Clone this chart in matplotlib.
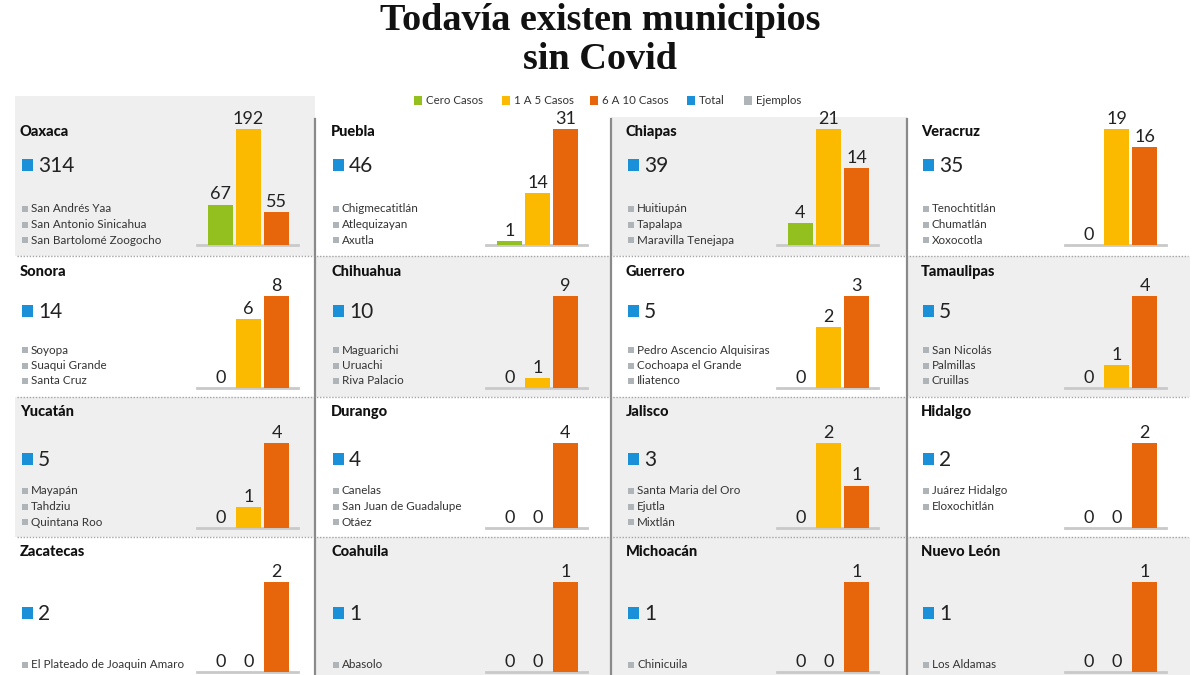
import matplotlib
matplotlib.use("Agg")
import matplotlib.pyplot as plt
from matplotlib.patches import Rectangle
from matplotlib.lines import Line2D

# ---------------- data ----------------
states = ["Oaxaca", "Puebla", "Chiapas", "Veracruz",
          "Sonora", "Chihuahua", "Guerrero", "Tamaulipas",
          "Yucatán", "Durango", "Jalisco", "Hidalgo",
          "Zacatecas", "Coahuila", "Michoacán", "Nuevo León"]
totals = [314, 46, 39, 35, 14, 10, 5, 5, 5, 4, 3, 2, 2, 1, 1, 1]
cero_casos = [67, 1, 4, 0, 0, 0, 0, 0, 0, 0, 0, 0, 0, 0, 0, 0]
uno_a_cinco = [192, 14, 21, 19, 6, 1, 2, 1, 1, 0, 2, 0, 0, 0, 0, 0]
seis_a_diez = [55, 31, 14, 16, 8, 9, 3, 4, 4, 4, 1, 2, 2, 1, 1, 1]
ejemplos = [
    ["San Andrés Yaa", "San Antonio Sinicahua", "San Bartolomé Zoogocho"],
    ["Chigmecatitlán", "Atlequizayan", "Axutla"],
    ["Huitiupán", "Tapalapa", "Maravilla Tenejapa"],
    ["Tenochtitlán", "Chumatlán", "Xoxocotla"],
    ["Soyopa", "Suaqui Grande", "Santa Cruz"],
    ["Maguarichi", "Uruachi", "Riva Palacio"],
    ["Pedro Ascencio Alquisiras", "Cochoapa el Grande", "Iliatenco"],
    ["San Nicolás", "Palmillas", "Cruillas"],
    ["Mayapán", "Tahdziu", "Quintana Roo"],
    ["Canelas", "San Juan de Guadalupe", "Otáez"],
    ["Santa Maria del Oro", "Ejutla", "Mixtlán"],
    ["Juárez Hidalgo", "Eloxochitlán"],
    ["El Plateado de Joaquin Amaro"],
    ["Abasolo"],
    ["Chinicuila"],
    ["Los Aldamas"],
]
legend_labels = ["Cero Casos", "1 A 5 Casos", "6 A 10 Casos", "Total", "Ejemplos"]
title_text = "Todavía existen municipios\nsin Covid"

# ---------------- style ----------------
GREEN, YELLOW, ORANGE = "#93c01f", "#fbb900", "#e8660b"
BLUE, GREYSQ = "#1a90d9", "#aeb4b8"
PANEL_BG = "#efefef"
SANS = ["Lato", "DejaVu Sans"]

W, H = 1200, 675
fig = plt.figure(figsize=(12, 6.75), dpi=100)
fig.patch.set_facecolor("white")

def fx(x):
    return x / W

def fy(y):
    return 1 - y / H

# geometry (pixels)
col_lines = [315, 611, 907]
col_left = [15, 315, 611, 907]
col_right = [315, 611, 907, 1190]
text_x = [20, 331, 626, 921]
bar_x0 = [208, 497, 788, 1076]
row_top = [117, 256, 397, 537]
row_bot = [256, 397, 537, 675]
name_y = [132, 272, 412, 552]
total_y = [165, 311, 459, 613]
ex_y = [209, 350, 491, 665]
ex_step = 15.5
base_y = [245, 388, 528, 672]
bar_h = [116, 92, 85, 90]
grey_panels = [[1, 0, 1, 0], [0, 1, 0, 1], [1, 0, 1, 0], [0, 1, 1, 1]]

bg_ax = fig.add_axes([0, 0, 1, 1])
bg_ax.set_xlim(0, W)
bg_ax.set_ylim(H, 0)
bg_ax.axis("off")

# panel backgrounds
for r in range(4):
    for c in range(4):
        if grey_panels[r][c]:
            top = 96 if (r == 0 and c == 0) else row_top[r]
            bg_ax.add_patch(Rectangle((col_left[c], top), col_right[c] - col_left[c],
                                      row_bot[r] - top, facecolor=PANEL_BG,
                                      edgecolor="none", zorder=0))

# separators
for y in row_bot[:3]:
    bg_ax.add_line(Line2D([17, 1188], [y, y], color="#a5a5a5", lw=1.0,
                          linestyle=(0, (1, 1.2)), zorder=2))
for x in col_lines:
    bg_ax.add_line(Line2D([x, x], [119, 675], color="#8a8a8a", lw=1.6, zorder=2))

# title
fig.text(0.5, fy(40), title_text, ha="center", va="center", fontsize=27.5,
         fontweight="bold", family=["Liberation Serif", "DejaVu Serif"],
         linespacing=1.18, color="#111111")

# legend
leg_colors = [GREEN, YELLOW, ORANGE, BLUE, GREYSQ]
leg_x = [414, 502, 590, 687, 744]
for lx, lc, lt in zip(leg_x, leg_colors, legend_labels):
    bg_ax.add_patch(Rectangle((lx, 96), 8, 9, facecolor=lc, edgecolor="none"))
    bg_ax.text(lx + 12, 100.5, lt, ha="left", va="center", fontsize=8.3,
               family=SANS, color="#333333")

# panels
for i, st in enumerate(states):
    r, c = divmod(i, 4)
    tx = text_x[c]
    bg_ax.text(tx, name_y[r], st, ha="left", va="center", fontsize=10.5,
               fontweight="black", family=SANS, color="#111111")
    bg_ax.add_patch(Rectangle((tx + 2, total_y[r] - 6), 11, 12,
                              facecolor=BLUE, edgecolor="none"))
    bg_ax.text(tx + 18, total_y[r] + 1, str(totals[i]), ha="left", va="center",
               fontsize=15, family=SANS, color="#222222")
    for k, ex in enumerate(ejemplos[i]):
        yy = ex_y[r] + k * ex_step
        bg_ax.add_patch(Rectangle((tx + 2, yy - 3), 6, 6,
                                  facecolor=GREYSQ, edgecolor="none"))
        bg_ax.text(tx + 11, yy, ex, ha="left", va="center", fontsize=8.4,
                   family=SANS, color="#333333")

    # bar axes
    unit = 28.0
    xlo, xhi = -0.84, 2.78
    left_px = bar_x0[c] + 12.5 + xlo * unit
    width_px = (xhi - xlo) * unit
    ax = fig.add_axes([fx(left_px), fy(base_y[r]), width_px / W, bar_h[r] / H])
    ax.set_xlim(xlo, xhi)
    vals = [cero_casos[i], uno_a_cinco[i], seis_a_diez[i]]
    vmax = max(vals)
    ax.set_ylim(0, vmax)
    ax.axis("off")
    ax.patch.set_alpha(0)
    ax.bar([0, 1, 2], vals, width=0.88, color=[GREEN, YELLOW, ORANGE],
           zorder=3, clip_on=False)
    ax.axhline(0, color="#c9c9c9", lw=2.0, zorder=2, clip_on=False)
    for xi, v in enumerate(vals):
        ax.annotate(str(v), (xi, v), xytext=(0, 1.5), textcoords="offset points",
                    ha="center", va="bottom", fontsize=13, family=SANS,
                    color="#222222", annotation_clip=False)

fig.savefig("out.png", dpi=100, facecolor="white")
